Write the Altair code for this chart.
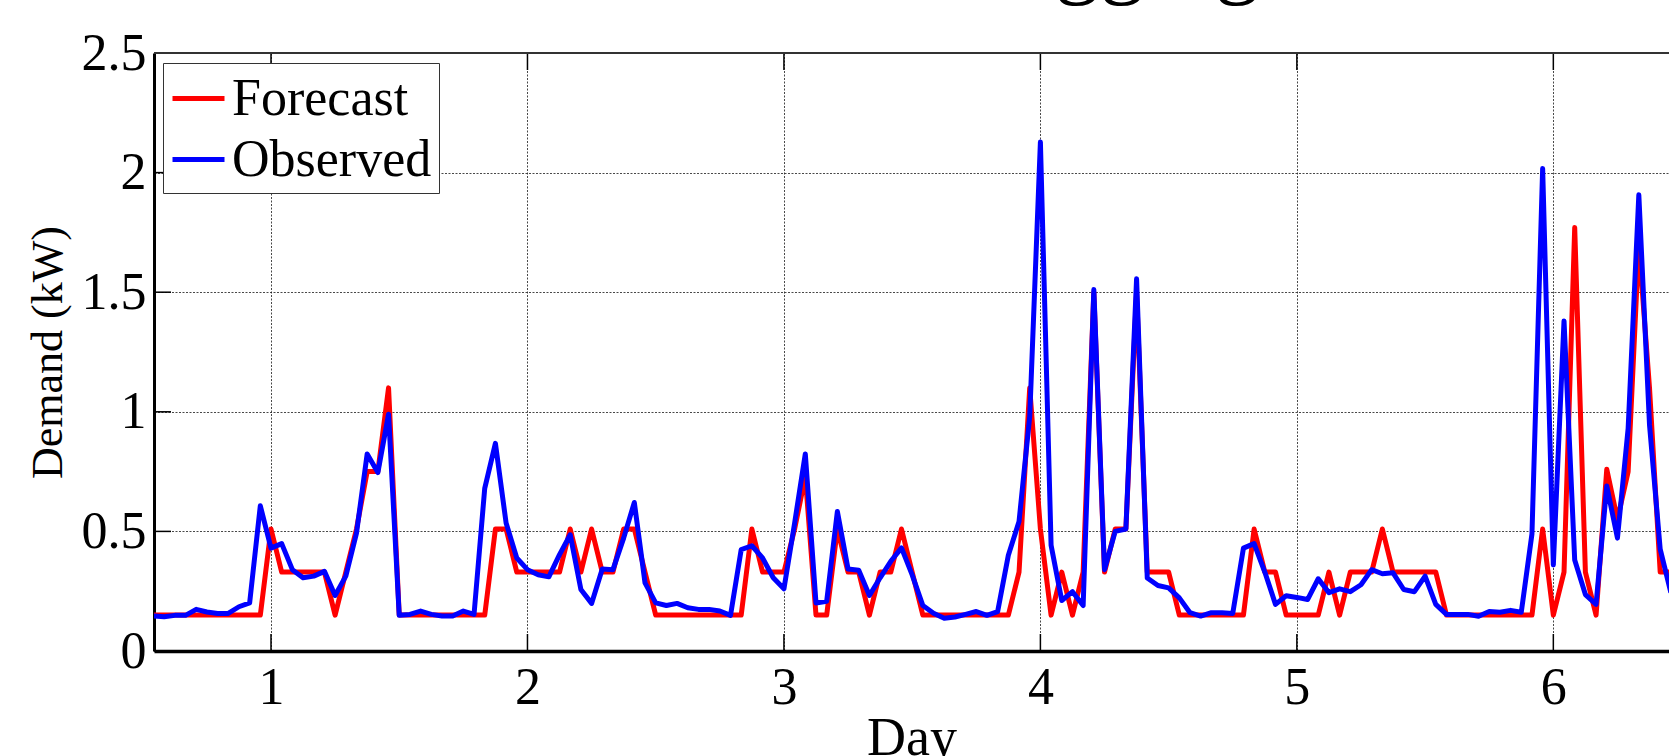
import altair as alt
import pandas as pd

# Hourly samples, first sample at hour 13 (day 13/24)
START_HOUR = 13

forecast = [
    0.15, 0.15, 0.15, 0.15, 0.15, 0.15, 0.15, 0.15, 0.15, 0.15, 0.15,
    0.51, 0.33, 0.33, 0.33, 0.33, 0.33, 0.15, 0.33, 0.51, 0.75, 0.75, 1.10,
    0.15, 0.15, 0.15, 0.15, 0.15, 0.15, 0.15, 0.15, 0.15, 0.51, 0.51, 0.33,
    0.33, 0.33, 0.33, 0.33, 0.51, 0.33, 0.51, 0.33, 0.33, 0.51, 0.51, 0.33,
    0.15, 0.15, 0.15, 0.15, 0.15, 0.15, 0.15, 0.15, 0.15, 0.51, 0.33, 0.33,
    0.33, 0.51, 0.73, 0.15, 0.15, 0.51, 0.33, 0.33, 0.15, 0.33, 0.33, 0.51,
    0.33, 0.15, 0.15, 0.15, 0.15, 0.15, 0.15, 0.15, 0.15, 0.15, 0.33, 1.10,
    0.51, 0.15, 0.33, 0.15, 0.33, 1.50, 0.33, 0.51, 0.51, 1.50, 0.33, 0.33,
    0.33, 0.15, 0.15, 0.15, 0.15, 0.15, 0.15, 0.15, 0.51, 0.33, 0.33, 0.15,
    0.15, 0.15, 0.15, 0.33, 0.15, 0.33, 0.33, 0.33, 0.51, 0.33, 0.33, 0.33,
    0.33, 0.33, 0.15, 0.15, 0.15, 0.15, 0.15, 0.15, 0.15, 0.15, 0.15, 0.51,
    0.15, 0.33, 1.77, 0.33, 0.15, 0.76, 0.55, 0.75, 1.70, 1.10, 0.33, 0.33,
]

observed = [
    0.146, 0.143, 0.149, 0.149, 0.174, 0.163, 0.157, 0.157, 0.185, 0.201, 0.607,
    0.430, 0.449, 0.340, 0.306, 0.313, 0.333, 0.232, 0.313, 0.493, 0.824, 0.746, 0.990,
    0.149, 0.153, 0.167, 0.153, 0.146, 0.146, 0.167, 0.153, 0.680, 0.868, 0.535, 0.389,
    0.340, 0.319, 0.310, 0.403, 0.486, 0.257, 0.199, 0.343, 0.340, 0.472, 0.621, 0.285,
    0.201, 0.190, 0.199, 0.181, 0.174, 0.174, 0.167, 0.149, 0.424, 0.440, 0.389, 0.306,
    0.260, 0.535, 0.824, 0.201, 0.208, 0.583, 0.343, 0.338, 0.232, 0.306, 0.375, 0.431,
    0.318, 0.190, 0.158, 0.137, 0.142, 0.153, 0.165, 0.149, 0.165, 0.400, 0.541, 0.980,
    2.128, 0.442, 0.211, 0.248, 0.190, 1.511, 0.340, 0.500, 0.510, 1.556, 0.305, 0.274,
    0.264, 0.222, 0.160, 0.146, 0.160, 0.160, 0.157, 0.430, 0.449, 0.330, 0.195, 0.231,
    0.224, 0.215, 0.302, 0.244, 0.260, 0.248, 0.277, 0.340, 0.323, 0.327, 0.257, 0.248,
    0.313, 0.195, 0.153, 0.153, 0.153, 0.145, 0.165, 0.162, 0.170, 0.162, 0.490, 2.017,
    0.360, 1.380, 0.380, 0.236, 0.195, 0.690, 0.472, 0.930, 1.907, 0.946, 0.426, 0.244,
]

series_names = ["Forecast", "Observed"]
series_colors = ["#ff0000", "#0000ff"]
x_ticks = [1, 2, 3, 4, 5, 6]
y_ticks = [0, 0.5, 1, 1.5, 2, 2.5]
title_text = ["Aggregated Demand"]

X_MIN, X_MAX = 0.5438, 6.451
Y_MIN, Y_MAX = 0.0, 2.5
TICK_LEN_Y = 0.071
TICK_LEN_X = 0.0663

n = len(forecast)
days = [(START_HOUR + i) / 24 for i in range(n)]
df = pd.DataFrame({
    "Day": days + days,
    "Demand": forecast + observed,
    "Series": [series_names[0]] * n + [series_names[1]] * n,
})

FONT = "Liberation Serif"
xscale = alt.Scale(domain=[X_MIN, X_MAX], nice=False, zero=False)
yscale = alt.Scale(domain=[Y_MIN, Y_MAX], nice=False, zero=False)

x_axis = alt.Axis(
    values=x_ticks, title="Day", format="d", ticks=False,
    labelBaseline="alphabetic", labelPadding=52, labelFlush=False,
    labelFont=FONT, labelFontSize=52, labelColor="black",
    titleFont=FONT, titleFontWeight="normal", titleColor="black",
    titleY=103, titleBaseline="alphabetic", titleFontSize=54,
    domainWidth=3.5, domainColor="black",
    grid=True, gridColor="#1a1a1a", gridOpacity=0.8, gridDash=[2, 1.5], gridWidth=1,
    labelOverlap=False,
)
y_axis = alt.Axis(
    values=y_ticks, title="Demand (kW)", format="~g", ticks=False,
    labelPadding=8, labelBaseline="middle", labelFlush=False,
    labelFont=FONT, labelFontSize=52, labelColor="black",
    titleFont=FONT, titleFontWeight="normal", titleColor="black",
    titleX=-93, titleY=299, titleAngle=270, titleBaseline="alphabetic",
    titleAlign="center", titleFontSize=44,
    domainWidth=3, domainColor="black",
    grid=True, gridColor="#1a1a1a", gridOpacity=0.8, gridDash=[2, 1.5], gridWidth=1,
    labelOverlap=False,
)

lines = alt.Chart(df).mark_line(strokeWidth=5, clip=True, strokeJoin="round").encode(
    x=alt.X("Day:Q", scale=xscale, axis=x_axis, title="Day"),
    y=alt.Y("Demand:Q", scale=yscale, axis=y_axis, title="Demand (kW)"),
    color=alt.Color("Series:N", scale=alt.Scale(domain=series_names, range=series_colors),
                    legend=alt.Legend(
                        title=None, orient="none", legendX=9, legendY=10,
                        symbolType="stroke", symbolSize=2704, symbolStrokeWidth=5,
                        labelFont=FONT, labelFontSize=52, labelColor="black",
                        labelOffset=5, labelLimit=500, padding=7, rowPadding=6,
                        strokeColor="#333333", fillColor="white",
                    )),
)

xt_df = pd.DataFrame({"t": x_ticks})
yt_df = pd.DataFrame({"v": y_ticks})

x_ticks_bottom = alt.Chart(xt_df).mark_rule(color="black", strokeWidth=1.5).encode(
    x=alt.X("t:Q", scale=xscale, axis=x_axis, title="Day"),
    y=alt.YDatum(Y_MIN, scale=yscale, axis=y_axis, title="Demand (kW)"),
    y2=alt.datum(Y_MIN + TICK_LEN_Y),
)
x_ticks_top = alt.Chart(xt_df).mark_rule(color="black", strokeWidth=1.5).encode(
    x=alt.X("t:Q", scale=xscale, axis=x_axis, title="Day"),
    y=alt.YDatum(Y_MAX - TICK_LEN_Y, scale=yscale, axis=y_axis, title="Demand (kW)"),
    y2=alt.datum(Y_MAX),
)
y_ticks_left = alt.Chart(yt_df).mark_rule(color="black", strokeWidth=1.5).encode(
    y=alt.Y("v:Q", scale=yscale, axis=y_axis, title="Demand (kW)"),
    x=alt.XDatum(X_MIN, scale=xscale, axis=x_axis, title="Day"),
    x2=alt.datum(X_MIN + TICK_LEN_X),
)
top_border = alt.Chart(yt_df).mark_rule(color="#333333", strokeWidth=2).encode(
    y=alt.YDatum(Y_MAX, scale=yscale, axis=y_axis, title="Demand (kW)"),
)

# Figure title: it sits above the cropped top edge, so only its descenders show.
title_mark = alt.Chart(pd.DataFrame({"title": title_text})).mark_text(
    font=FONT, fontSize=90, align="left", baseline="alphabetic", color="black",
).encode(
    text="title:N",
    x=alt.value(836),
    y=alt.value(-66),
)

chart = alt.layer(lines, x_ticks_bottom, x_ticks_top, y_ticks_left, top_border, title_mark).properties(
    width=1515,
    height=598,
    background="white",
    autosize=alt.AutoSizeParams(type="none"),
    padding={"left": 154, "top": 53, "right": 0, "bottom": 105},
).configure_view(stroke=None)

chart.save("out.html", embed_options={"renderer": "svg", "actions": False})
